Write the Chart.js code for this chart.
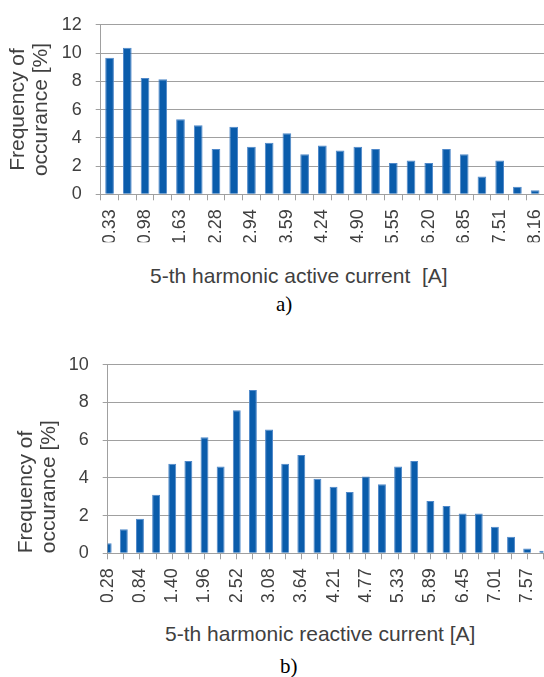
<!DOCTYPE html>
<html>
<head>
<meta charset="utf-8">
<script src="https://cdn.jsdelivr.net/npm/chart.js@4.4.1/dist/chart.umd.min.js"></script>
<style>
  html, body { margin: 0; padding: 0; background: #fff; }
  body { width: 544px; height: 677px; position: relative; overflow: hidden; }
  canvas { position: absolute; left: 0; }
  #chA { top: 0; }
  #chB { top: 340px; }
  .xt { position: absolute; font-family: "Liberation Sans", Arial, sans-serif; font-size: 21px;
        line-height: 1; color: #404040; white-space: pre; }
  .cap { position: absolute; font-family: "Liberation Serif", "Times New Roman", serif; font-size: 21px;
         line-height: 1; color: #000; }
</style>
</head>
<body>
<canvas id="chA" width="544" height="250"></canvas>
<canvas id="chB" width="544" height="270"></canvas>
<div class="xt" style="left:150px; top:265px;">5-th harmonic active current  [A]</div>
<div class="xt" style="left:165px; top:623px;">5-th harmonic reactive current [A]</div>
<div class="cap" style="left:276px; top:294px;">a)</div>
<div class="cap" style="left:280px; top:656px;">b)</div>
<script>
// a) 5-th harmonic active current, histogram
const LABELS_A = ["0.33", "0.65", "0.98", "1.31", "1.63", "1.96", "2.28", "2.61", "2.94", "3.26",
                  "3.59", "3.92", "4.24", "4.57", "4.90", "5.22", "5.55", "5.87", "6.20", "6.53",
                  "6.85", "7.18", "7.51", "7.83", "8.16"];
const FREQ_A = [9.66, 10.37, 8.23, 8.14, 5.32, 4.89, 3.21, 4.79, 3.37, 3.65,
                4.33, 2.84, 3.46, 3.10, 3.37, 3.21, 2.22, 2.39, 2.22, 3.21,
                2.84, 1.26, 2.39, 0.53, 0.28];

// b) 5-th harmonic reactive current, histogram
const LABELS_B = ["0.28", "0.56", "0.84", "1.12", "1.40", "1.68", "1.96", "2.24", "2.52", "2.80",
                  "3.08", "3.36", "3.64", "3.92", "4.21", "4.49", "4.77", "5.05", "5.33", "5.61",
                  "5.89", "6.17", "6.45", "6.73", "7.01", "7.29", "7.57", "7.85"];
const FREQ_B = [0.53, 1.28, 1.83, 3.11, 4.75, 4.89, 6.15, 4.60, 7.59, 8.66,
                6.57, 4.75, 5.22, 3.95, 3.53, 3.25, 4.08, 3.66, 4.60, 4.89,
                2.78, 2.51, 2.11, 2.11, 1.41, 0.88, 0.26, 0.14];

const Y_TITLE = ["Frequency of", "occurance [%]"];

const BAR = "#0a5cab";
const BAR_EDGE = "#4f88c9";
const GRID = "#a0a0a0";
const TXT = "#404040";
const FONT = '"Liberation Sans", Arial, sans-serif';

function histogram(id, labels, data, o) {
    return new Chart(document.getElementById(id), {
        type: "bar",
        data: {
            labels,
            datasets: [{ data, backgroundColor: BAR, borderColor: BAR_EDGE, borderWidth: 1,
                         categoryPercentage: 0.49, barPercentage: 1, clip: 0 }]
        },
        options: {
            responsive: false, animation: false,
            layout: { padding: o.pad },
            plugins: { legend: { display: false }, tooltip: { enabled: false } },
            scales: {
                x: {
                    offset: o.offset,
                    grid: { drawOnChartArea: false, color: GRID, tickLength: 6, offset: o.offset },
                    border: { color: GRID },
                    ticks: {
                        autoSkip: false, maxRotation: 90, minRotation: 90, padding: o.xPad,
                        color: TXT, font: { family: FONT, size: 18 },
                        callback: (v, i) => (i % 2 ? "" : labels[i])
                    },
                    afterFit: s => { s.paddingLeft = 0; s.paddingRight = 0; s.height = o.xH; }
                },
                y: {
                    min: 0, max: o.max,
                    ticks: { stepSize: 2, padding: 14, color: TXT, font: { family: FONT, size: 18 } },
                    grid: { color: GRID, tickLength: 5 },
                    border: { color: GRID },
                    title: {
                        display: true, text: Y_TITLE, align: o.titleAlign, color: TXT,
                        font: { family: FONT, size: 21, lineHeight: 1.1 },
                        padding: { top: 0, bottom: 0 }
                    },
                    afterFit: s => { s.width = o.yW; }
                }
            }
        }
    });
}

// y axis line at x≈100.7, plot 20..194 px
histogram("chA", LABELS_A, FREQ_A, {
    max: 12, offset: true, xPad: 9, titleAlign: "center", yW: 94.2, xH: 48,
    pad: { left: 6.5, top: 20, right: 0, bottom: 7.7 }
});
// y axis line at x≈107.7, plot 364..553 px (canvas starts at 340)
histogram("chB", LABELS_B, FREQ_B, {
    max: 10, offset: false, xPad: 9, titleAlign: "start", yW: 92.7, xH: 49,
    pad: { left: 15, top: 24, right: 0.7, bottom: 7.7 }
});
</script>
</body>
</html>
